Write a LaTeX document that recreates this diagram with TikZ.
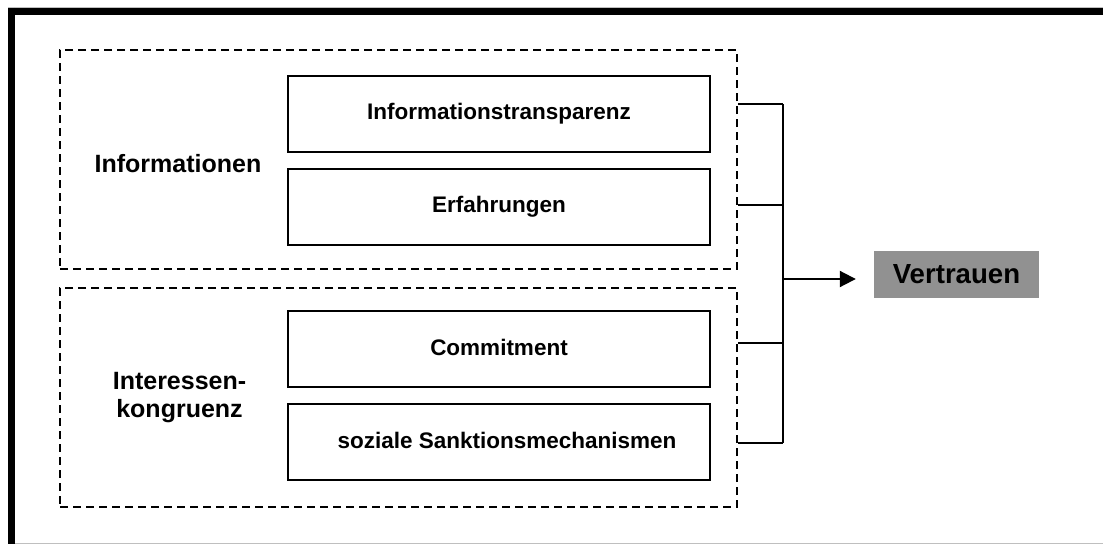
\documentclass[tikz,border=0pt]{standalone}
\usepackage{fontspec}
\setmainfont{Liberation Sans}
\usetikzlibrary{arrows.meta,calc}

\begin{document}
\begin{tikzpicture}[x=1pt,y=-1pt,
  group/.style={draw, dashed, dash pattern=on 8pt off 5pt, line width=2pt,
    minimum width=677pt, minimum height=219pt, inner sep=0pt},
  factor/.style={draw, line width=2pt, minimum width=422pt, minimum height=76pt,
    inner sep=0pt, font=\fontsize{22.5}{27}\selectfont\bfseries},
  grouplabel/.style={align=center, inner sep=0pt,
    font=\fontsize{25}{28}\selectfont\bfseries},
  result/.style={fill=black!43, minimum width=165pt, minimum height=47pt,
    inner sep=0pt, font=\fontsize{27.6}{32}\selectfont\bfseries},
  link/.style={line width=2pt},
  frame/.style={line width=7.5pt},
  edge/.style={line width=1pt, black!25}]

  % page area
  \useasboundingbox (0,0) rectangle (1103,544);

  % outer frame: heavy rule on top and left, light rule at the edges
  \draw[edge] (8,7) -- (1103,7);
  \draw[edge] (15,543) -- (1103,543);
  \draw[frame] (8,11.5) -- (1103,11.5);
  \draw[frame] (11.5,7.75) -- (11.5,544);

  % the two groups
  \node[group] (info) at (398.5,159.5) {};
  \node[group] (inter) at (398.5,397.5) {};

  % group labels
  \node[grouplabel, anchor=base] (infolab) at (178,172) {Informationen};
  \node[grouplabel, anchor=base] (interlab) at (179.5,417) {Interessen-\\kongruenz};

  % factors
  \node[factor] (transp) at (499,114) {\raisebox{3pt}{Informationstransparenz}};
  \node[factor] (erf)    at (499,207) {\raisebox{3pt}{Erfahrungen}};
  \node[factor] (comm)   at (499,349) {\raisebox{3pt}{Commitment}};
  \node[factor] (sankt)  at (499,442) {\raisebox{3pt}{\hspace{16pt}soziale Sanktionsmechanismen}};

  % result
  \node[result] (vert) at (956.5,274.5) {Vertrauen};

  % bracket joining the groups
  \coordinate (s1) at (info.east |- 0,104);
  \coordinate (s2) at (info.east |- 0,205);
  \coordinate (s3) at (inter.east |- 0,343);
  \coordinate (s4) at (inter.east |- 0,443);
  \coordinate (b1) at (783,104);
  \coordinate (b2) at (783,205);
  \coordinate (b3) at (783,343);
  \coordinate (b4) at (783,443);
  \coordinate (bm) at (783,279);
  \coordinate (tip) at ($(vert.west |- bm)+(-18,0)$);

  \draw[link] (s1) -- (b1);
  \draw[link] (s2) -- (b2);
  \draw[link] (s3) -- (b3);
  \draw[link] (s4) -- (b4);
  \draw[link] (b1) -- (b4);
  \draw[link, -{Triangle[length=16pt,width=16pt]}] (bm) -- (tip);
\end{tikzpicture}
\end{document}
